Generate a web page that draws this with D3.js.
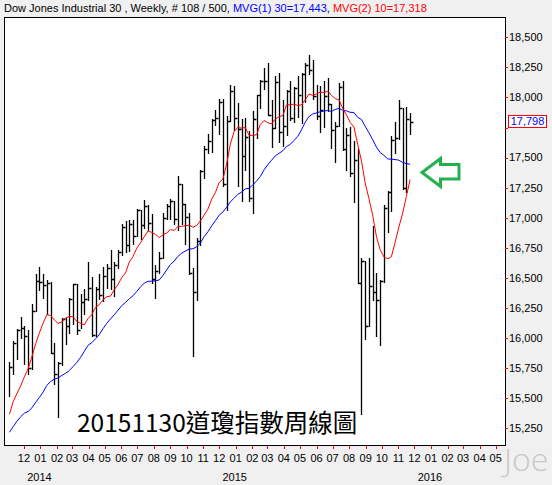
<!DOCTYPE html>
<html><head><meta charset="utf-8">
<script src="https://cdn.jsdelivr.net/npm/d3@7"></script>
<style>
body{margin:0;background:#f0f0f0;}
svg{display:block;font-family:"Liberation Sans",Arial,sans-serif;}
</style>
</head><body>
<svg id="c" width="552" height="485"></svg>
<script>
// ---------- data ----------
const firstWeek = new Date(2013, 10, 4); // Monday of first weekly bar
const closes = [15761.78,15961.70,16064.77,16086.41,16020.20,15755.36,16221.14,16478.41,
16469.99,16437.05,16458.56,15879.11,15698.85,15794.08,16154.39,16103.30,16321.71,16452.72,
16065.67,16302.77,16323.06,16412.71,16026.75,16408.54,16361.46,16512.89,16583.34,16491.31,
16606.27,16717.17,16924.28,16775.74,16947.08,16851.84,17068.26,16943.81,17100.18,16960.57,
16493.37,16553.93,16662.91,17001.22,17098.45,17137.36,16987.51,17279.74,17113.15,17009.69,
16544.10,16380.41,16805.41,17390.52,17573.93,17634.74,17810.06,17828.24,17958.79,17280.83,
17804.80,18053.71,
17832.99,17737.37,17511.57,17672.60,17164.95,17824.29,18019.35,18140.44,18132.70,17856.78,
17749.31,18127.65,17712.66,17763.24,18057.65,17826.30,18080.14,18024.06,18191.11,18272.56,
18232.02,18010.68,17849.46,17898.84,18015.95,17946.68,17730.11,17760.41,18086.45,17568.53,
17689.86,17373.38,17477.40,16459.75,16643.01,16102.38,16433.09,16384.58,16314.67,16472.37,
17084.49,17215.97,17646.70,17663.54,17910.33,17245.24,17823.81,17798.49];
const highs = [15797,15974,16073,16174,16100,16065,16280,16529,
16588,16534,16482,16470,15960,15798,16165,16168,16332,16453,
16452,16365,16406,16631,16507,16425,16535,16588,16613,16736,
16630,16735,16944,16970,16979,16978,17074,17068,17151,17110,
17030,16610,16714,17037,17111,17156,17137,17350,17280,17113,
17038,16584,16829,17395,17600,17700,17817,17894,17991,17991,
17843,18103,
18093,17951,17822,17832,17720,17884,18024,18141,18244,18289,
17982,18177,18206,17980,18060,18136,18084,18175,18206,18288,
18351,18312,18100,18096,18137,18163,17946,17792,18120,18137,
17748,17755,17640,17572,16666,16643,16664,16933,16540,16482,
17110,17220,17680,17799,17977,17916,17919,17870];
const lows = [15516,15700,15830,16000,15787,15703,15740,16221,
16398,16329,16200,15873,15622,15340,15772,15951,16038,16120,
16030,16080,16200,16320,16015,16015,16324,16310,16420,16408,
16351,16580,16690,16713,16720,16780,16851,16823,16918,16899,
16461,16333,16540,16662,16990,16990,16944,16901,16945,16780,
16530,15855,16320,16770,17330,17540,17550,17767,17698,17262,
17067,17804,
17732,17262,17138,17400,17136,17037,17664,17915,18068,17856,
17585,17749,17630,17600,17690,17810,17800,17840,17790,17960,
18192,17991,17818,17714,17756,17888,17576,17465,17760,17563,
17399,17345,17127,16459,15370,15990,16102,16315,16020,15942,
16470,16885,17060,17541,17653,17240,17210,17700];
// weekly closes before the first bar (needed for the moving averages)
const priorCloses = [14547.51,14712.55,14973.96,15118.49,15354.40,15303.10,15115.57,15248.12,
15070.18,14799.40,14909.60,15135.84,15464.30,15543.74,15558.83,15658.36,15425.51,15081.47,
15010.51,14810.31,14922.50,15376.06,15451.09,15258.24,15072.58,15237.11,15399.65,15570.28,15615.55];
const maPeriods = [30, 10];
const maColors = ["#0000ff", "#ff0000"];
const yTickValues = [15250,15500,15750,16000,16250,16500,16750,17000,17250,17500,17750,18000,18250,18500];
const monthStart = new Date(2013, 11, 1), monthEnd = new Date(2016, 4, 1);
const yearLabels = ["2014", "2015", "2016"];
const titleParts = [
  {t: "Dow Jones Industrial 30 , Weekly, # 108 / 500, ", c: "#000"},
  {t: "MVG(1) 30=17,443", c: "#0000ff"},
  {t: ", ", c: "#000"},
  {t: "MVG(2) 10=17,318", c: "#ff0000"}
];
const caption = "20151130道瓊指數周線圖";

// ---------- layout ----------
const plot = {l: 4, t: 17, r: 505, b: 445};
const svg = d3.select("#c");
const dates = closes.map((_, i) => d3.timeWeek.offset(firstWeek, i));
const x = d3.scaleTime().domain([monthStart, monthEnd]).range([23.9, 495.7]);
const y = d3.scaleLinear().domain([15250, 18500]).range([428.3, 37.3]);
const last = closes[closes.length - 1];

svg.append("rect").attr("x", plot.l + 0.5).attr("y", plot.t + 0.5)
  .attr("width", plot.r - plot.l).attr("height", plot.b - plot.t)
  .attr("fill", "#fff").attr("stroke", "#000").attr("stroke-width", 1);

// title
const title = svg.append("text").attr("x", 4).attr("y", 12).attr("font-size", 11);
titleParts.forEach(p => title.append("tspan").attr("fill", p.c).text(p.t));

// y axis (labels hidden where the last-value box sits, as in the original)
const yAxis = svg.append("g");
yTickValues.forEach(v => {
  const yy = Math.round(y(v)) + 0.5;
  yAxis.append("line").attr("x1", plot.r).attr("x2", plot.r + 3).attr("y1", yy).attr("y2", yy)
    .attr("stroke", "#ff0000");
  if (Math.abs(y(v) - y(last)) > 12) {
    yAxis.append("text").attr("x", plot.r + 4).attr("y", y(v)).attr("dy", "0.35em")
      .attr("font-size", 11).attr("fill", "#000").text(d3.format(",")(v));
  }
});

// x axis
const months = d3.timeMonths(monthStart, d3.timeDay.offset(monthEnd, 1));
const xAxis = svg.append("g");
months.forEach(m => {
  const xx = Math.round(x(m)) + 0.5;
  xAxis.append("line").attr("x1", xx).attr("x2", xx).attr("y1", plot.b + 1).attr("y2", plot.b + 4)
    .attr("stroke", "#ff0000");
  xAxis.append("text").attr("x", x(m)).attr("y", 458).attr("dy", "0.35em")
    .attr("text-anchor", "middle").attr("font-size", 11).text(d3.timeFormat("%m")(m));
});
yearLabels.forEach(yl => {
  xAxis.append("text").attr("x", x(new Date(+yl, 0, 1)) - 1).attr("y", 477).attr("dy", "0.35em")
    .attr("text-anchor", "middle").attr("font-size", 11).text(yl);
});

// bars (high-low with close tick)
const bars = svg.append("g").attr("stroke", "#000").attr("stroke-width", 1.3).attr("fill", "none");
closes.forEach((c, i) => {
  const xx = Math.round(x(dates[i])) + 0.5;
  const yc = Math.round(y(c)) + 0.5;
  bars.append("path").attr("d",
    `M${xx},${Math.round(y(highs[i]))}V${Math.round(y(lows[i])) + 1}M${xx},${yc}H${xx + 3}`);
});

// moving averages
const allCloses = priorCloses.concat(closes);
maPeriods.forEach((n, k) => {
  const ma = closes.map((_, i) => {
    const end = priorCloses.length + i + 1;
    return d3.mean(allCloses.slice(end - n, end));
  });
  svg.append("path").datum(ma)
    .attr("d", d3.line().x((d, i) => x(dates[i])).y(d => y(d)))
    .attr("fill", "none").attr("stroke", maColors[k]).attr("stroke-width", 1);
});

// last value label (centred on the last close)
const ly = y(last) - 6.5;
svg.append("rect").attr("x", 508.5).attr("y", Math.round(ly) + 0.5).attr("width", 38).attr("height", 12)
  .attr("fill", "#fff").attr("stroke", "#ff0000");
svg.append("text").attr("x", 527.5).attr("y", Math.round(ly) + 6.5).attr("dy", "0.35em")
  .attr("text-anchor", "middle").attr("font-size", 11).attr("fill", "#0000ff")
  .text(d3.format(",")(Math.round(last)));

// caption
svg.append("text").attr("x", 77).attr("y", 432)
  .attr("font-family", "'Noto Sans CJK TC','Noto Sans CJK SC',sans-serif")
  .attr("font-size", 24.5).attr("fill", "#000").text(caption);

// arrow annotation
svg.append("path")
  .attr("d", "M422,172.5L440.5,158.5V164.5H459V179H440.5V186.5Z")
  .attr("fill", "#fff").attr("stroke", "#22b14c").attr("stroke-width", 3).attr("stroke-linejoin", "miter");

// watermark
svg.append("text").attr("x", 504).attr("y", 471)
  .attr("font-family", "'Open Sans',sans-serif").attr("font-weight", 300)
  .attr("font-size", 32).attr("fill", "#c8c8c8").text("Joe");
</script>
</body></html>
